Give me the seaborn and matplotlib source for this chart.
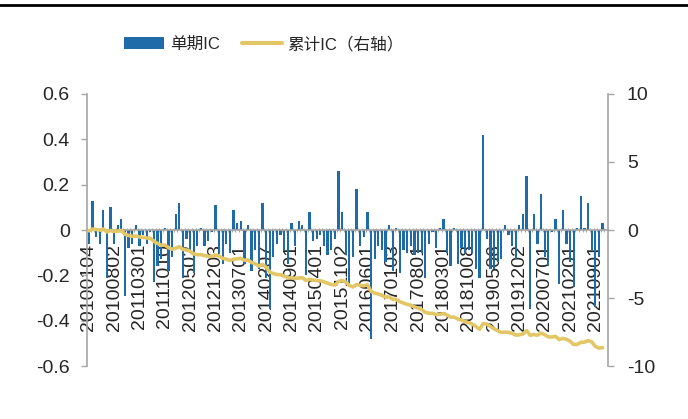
import numpy as np
import pandas as pd
import matplotlib
matplotlib.use("Agg")
import matplotlib.pyplot as plt
import seaborn as sns
from matplotlib.lines import Line2D
from matplotlib.patches import Patch

# Month labels shown on the category axis (one every seven months)
tick_labels = [
    "20100104", "20100802", "20110301", "20111010", "20120502", "20121203",
    "20130701", "20140207", "20140901", "20150401", "20151102", "20160601",
    "20170103", "20170801", "20180301", "20181008", "20190506", "20191202",
    "20200701", "20210201", "20210901",
]
label_step = 7

# Monthly rank IC, 2010-01 onwards (the final month has no IC yet)
ic = [
    -0.06, 0.13, -0.03, -0.06, 0.09, -0.21, 0.10, -0.06, 0.02, 0.05,
    -0.29, -0.08, -0.06, 0.02, -0.07, -0.02, -0.06, -0.01, -0.23, -0.16,
    -0.13, 0.01, -0.18, -0.12, 0.07, 0.12, -0.21, -0.04, -0.09, -0.19,
    -0.07, 0.01, -0.07, -0.05, -0.01, 0.11, -0.10, -0.15, -0.06, -0.10,
    0.09, 0.03, 0.04, -0.15, 0.02, -0.18, -0.09, -0.17, 0.12, -0.21,
    -0.35, -0.12, -0.06, -0.02, -0.09, -0.15, 0.03, -0.07, 0.04, 0.02,
    -0.20, 0.08, -0.05, -0.04, -0.02, -0.07, -0.11, -0.09, -0.04, 0.26,
    0.08, -0.11, -0.25, -0.12, 0.18, -0.07, -0.03, 0.08, -0.48, -0.13,
    -0.07, -0.09, -0.14, 0.02, -0.18, 0.01, -0.19, -0.09, -0.10, -0.07,
    -0.11, -0.10, -0.10, -0.21, -0.06, -0.01, -0.08, 0.01, 0.05, -0.10,
    -0.16, 0.01, -0.15, -0.08, -0.10, -0.09, -0.10, -0.17, -0.21, 0.42,
    -0.04, -0.17, -0.17, -0.14, -0.13, 0.02, -0.02, -0.07, -0.13, 0.02,
    0.07, 0.24, -0.35, 0.07, -0.06, 0.16, -0.12, -0.16, -0.01, 0.05,
    -0.24, 0.09, -0.06, -0.14, -0.25, 0.01, 0.15, 0.01, 0.12, -0.09,
    -0.34, -0.12, 0.03,
]
series_names = ["单期IC", "累计IC（右轴）"]

BAR = "#1f6aa8"
LINE = "#e3c766"
AXIS = "#a6a6a6"

sns.set_style("white")
plt.rcParams["font.family"] = ["Liberation Sans", "Noto Sans CJK SC"]
plt.rcParams["axes.unicode_minus"] = False

n_slots = len(ic) + 1
df = pd.DataFrame({"period": np.arange(len(ic)), "ic": ic})
df["cum_ic"] = df["ic"].cumsum()

W, H = 688, 419
fig = plt.figure(figsize=(W / 100, H / 100), dpi=100)
ax = fig.add_axes([87 / W, 1 - 366 / H, (608 - 87) / W, (366 - 94) / H])

sns.barplot(data=df, x="period", y="ic", color=BAR, saturation=1,
            width=0.62, errorbar=None, linewidth=0, ax=ax, zorder=2)
ax2 = ax.twinx()
sns.lineplot(data=df, x="period", y="cum_ic", color=LINE, lw=2.6, ax=ax2)

ax.set_xlim(-0.5, n_slots - 0.5)
ax.set_ylim(-0.6, 0.6)
ax2.set_ylim(-10, 10)
for a in (ax, ax2):
    a.set_xlabel("")
    a.set_ylabel("")

# left axis
yt = np.round(np.arange(-0.6, 0.61, 0.2), 1)
ax.set_yticks(yt)
ax.set_yticklabels([f"{v:g}" if v != 0 else "0" for v in yt])
ax.tick_params(axis="y", length=4.5, width=1, color=AXIS, pad=8,
               labelsize=14, direction="out", left=True)

# right axis
ax2.set_yticks([-10, -5, 0, 5, 10])
ax2.tick_params(axis="y", length=4.5, width=1, color=AXIS, pad=9,
                labelsize=14, direction="out", right=True)

# category axis hangs from the zero line
pos = np.arange(0, len(tick_labels) * label_step, label_step)
ax.set_xticks(pos)
ax.set_xticklabels(tick_labels)
ax.set_xticks(np.arange(-0.5, n_slots, 1), minor=True)
ax.tick_params(axis="x", which="major", length=0, pad=10, bottom=True,
               labelsize=14, labelrotation=90)
ax.tick_params(axis="x", which="minor", length=2.5, width=0.8,
               color=AXIS, direction="inout", bottom=True)

ax.spines["bottom"].set_position(("data", 0))
ax.spines["bottom"].set_color(AXIS)
ax.spines["bottom"].set_linewidth(1.2)
ax.spines["left"].set_color(AXIS)
ax.spines["left"].set_linewidth(1.2)
for s in ("top", "right"):
    ax.spines[s].set_visible(False)
for s in ("top", "left", "bottom"):
    ax2.spines[s].set_visible(False)
ax2.spines["right"].set_color(AXIS)
ax2.spines["right"].set_linewidth(1.2)
ax.grid(False)
ax2.grid(False)

handles = [Patch(facecolor=BAR, edgecolor="none"),
           Line2D([], [], color=LINE, lw=3)]
fig.legend(handles=handles, labels=series_names, loc="center",
           bbox_to_anchor=(264 / W, 1 - 44 / H), ncol=2, frameon=False,
           fontsize=12, handlelength=2.4, handleheight=0.75,
           handletextpad=0.35, columnspacing=1.3)

# heading rule along the top edge
fig.add_artist(Line2D([0, 1], [1 - 5 / H] * 2, color="black", lw=2,
                      transform=fig.transFigure))

fig.savefig("out.png", dpi=100)
